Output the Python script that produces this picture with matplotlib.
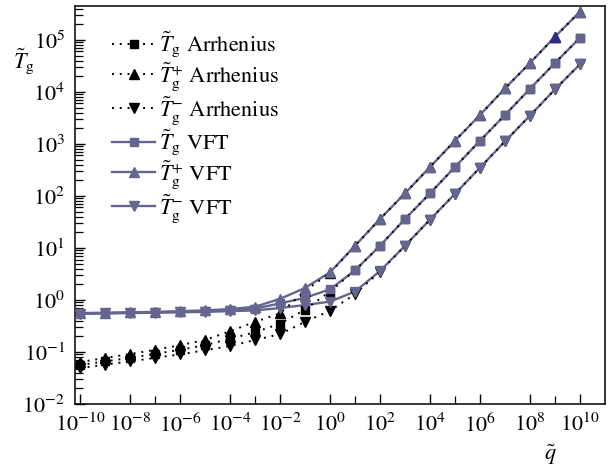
import matplotlib
matplotlib.use('Agg')
import matplotlib.pyplot as plt
from matplotlib.lines import Line2D
from matplotlib.ticker import LogLocator, NullFormatter

plt.rcParams['font.family'] = ['STIXGeneral', 'DejaVu Sans']
plt.rcParams['mathtext.fontset'] = 'stix'

# cooling rate (reduced), one point per decade
q = [1e-10, 1e-9, 1e-8, 1e-7, 1e-6, 1e-5, 1e-4, 1e-3, 1e-2, 1e-1, 1e0,
     1e1, 1e2, 1e3, 1e4, 1e5, 1e6, 1e7, 1e8, 1e9, 1e10]

# glass temperature, Arrhenius model
tg_arr = [0.056, 0.066, 0.077, 0.092, 0.11, 0.135, 0.18, 0.24, 0.35, 0.65, 1.45,
          3.7, 11, 36, 112, 360, 1150, 3600, 1.15e4, 3.6e4, 1.1e5]
tg_arr_plus = [0.064, 0.077, 0.091, 0.11, 0.135, 0.17, 0.25, 0.38, 0.55, 1.5, 3.3,
               11, 36, 112, 360, 1150, 3600, 1.17e4, 3.6e4, 1.15e5, 3.5e5]
tg_arr_minus = [0.049, 0.057, 0.066, 0.077, 0.09, 0.108, 0.13, 0.17, 0.22, 0.38, 0.62,
                1.3, 3.5, 11, 35, 110, 350, 1120, 3500, 1.12e4, 3.4e4]

# glass temperature, VFT model
tg_vft = [0.55, 0.56, 0.57, 0.58, 0.59, 0.61, 0.64, 0.68, 0.86, 1.1, 1.6,
          3.7, 11, 36, 112, 360, 1150, 3600, 1.15e4, 3.6e4, 1.1e5]
tg_vft_plus = [0.56, 0.57, 0.58, 0.59, 0.61, 0.63, 0.67, 0.74, 1.05, 1.7, 3.4,
               11, 36, 112, 360, 1150, 3600, 1.17e4, 3.6e4, 1.15e5, 3.5e5]
tg_vft_minus = [0.54, 0.55, 0.56, 0.57, 0.58, 0.59, 0.61, 0.63, 0.70, 0.80, 0.93,
                1.45, 3.6, 11, 35, 110, 350, 1120, 3500, 1.12e4, 3.4e4]

x_ticks = [1e-10, 1e-8, 1e-6, 1e-4, 1e-2, 1e0, 1e2, 1e4, 1e6, 1e8, 1e10]
x_ticklabels = ['$10^{-10}$', '$10^{-8}$', '$10^{-6}$', '$10^{-4}$', '$10^{-2}$', '$10^{0}$',
                '$10^{2}$', '$10^{4}$', '$10^{6}$', '$10^{8}$', '$10^{10}$']

labels = [r'$\tilde{T}_\mathrm{g}$ Arrhenius', r'$\tilde{T}_\mathrm{g}^{+}$ Arrhenius',
          r'$\tilde{T}_\mathrm{g}^{-}$ Arrhenius', r'$\tilde{T}_\mathrm{g}$ VFT',
          r'$\tilde{T}_\mathrm{g}^{+}$ VFT', r'$\tilde{T}_\mathrm{g}^{-}$ VFT']

purple = '#66658f'
dots = (0, (1, 3))
markers = ['s', '^', 'v']
msizes = [6.2, 7.2, 7.2]

fig = plt.figure(figsize=(6.09, 4.70), dpi=100)
ax = fig.add_axes([0.123, 0.1404, 0.8704, 0.8466])

arr_sets = [tg_arr, tg_arr_plus, tg_arr_minus]
vft_sets = [tg_vft, tg_vft_plus, tg_vft_minus]

# lines first, then markers so the VFT symbols sit on top
for ys in vft_sets:
    ax.plot(q, ys, color=purple, lw=1.7, zorder=2)
for ys in arr_sets:
    ax.plot(q, ys, color='black', lw=1.4, ls=dots, zorder=3)
for ys, m, ms in zip(arr_sets, markers, msizes):
    ax.plot(q, ys, ls='none', marker=m, ms=ms, color='black', zorder=4)
for ys, m, ms in zip(vft_sets, markers, msizes):
    ax.plot(q, ys, ls='none', marker=m, ms=ms, color=purple, zorder=5)
# one highlighted point
ax.plot(q[19], tg_vft_plus[19], ls='none', marker='^', ms=7.2, color='#2b2b8c', zorder=6)

ax.set_xscale('log')
ax.set_yscale('log')
ax.set_xlim(10**-10.2, 1e11)
ax.set_ylim(1e-2, 10**5.65)

ax.set_xticks(x_ticks)
ax.set_xticklabels(x_ticklabels)
ax.xaxis.set_minor_locator(LogLocator(base=10, subs=[]))
ax.xaxis.set_minor_formatter(NullFormatter())
ax.yaxis.set_major_locator(LogLocator(base=10, numticks=20))
ax.yaxis.set_minor_locator(LogLocator(base=10, subs=range(2, 10), numticks=20))
ax.yaxis.set_minor_formatter(NullFormatter())

ax.tick_params(which='major', direction='in', length=7, width=1, labelsize=16, pad=7)
ax.tick_params(which='minor', direction='in', length=5.5, width=0.9)
for s in ax.spines.values():
    s.set_linewidth(1.1)

fig.text(0.022, 0.855, r'$\tilde{T}_\mathrm{g}$', fontsize=16)
fig.text(0.893, 0.022, r'$\tilde{q}$', fontsize=16)

handles = []
for m, ms in zip(markers, msizes):
    handles.append(Line2D([], [], color='black', lw=1.4, ls=dots, marker=m, ms=ms))
for m, ms in zip(markers, msizes):
    handles.append(Line2D([], [], color=purple, lw=1.7, marker=m, ms=ms))
ax.legend(handles, labels, loc='upper left', bbox_to_anchor=(0.054, 0.963),
          frameon=False, fontsize=16, handlelength=1.9, handletextpad=0.2,
          labelspacing=0.04, borderaxespad=0)

fig.savefig('out.png', dpi=100)
